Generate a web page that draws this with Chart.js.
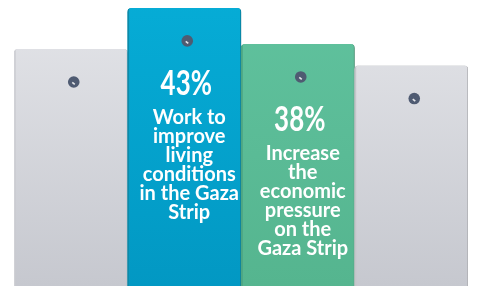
<!DOCTYPE html>
<html lang="en">
<head>
    <meta charset="UTF-8">
    <title>Gaza Strip policy tags</title>
    <script src="https://cdn.jsdelivr.net/npm/chart.js"></script>
    <style>
        body { margin: 0; background: #ffffff; }
        .wrap { position: relative; width: 479px; height: 286px; }
    </style>
</head>
<body>
    <div class="wrap">
        <canvas id="myChart"></canvas>
    </div>

<script>
    // data
    const categories = ['Other A', 'Improve living conditions', 'Increase economic pressure', 'Other B']
    const values = [37.3, 43, 38, 35]
    const pctLabels = ['', '43%', '38%', '']
    const descriptions = [
        [],
        ['Work to', 'improve', 'living', 'conditions', 'in the Gaza', 'Strip'],
        ['Increase', 'the', 'economic', 'pressure', 'on the', 'Gaza Strip'],
        []
    ]

    const topColors = ['#e4e5e9', '#06acd6', '#60c29e', '#e4e5e9']
    const bottomColors = ['#c6c8cf', '#0298c3', '#55b58f', '#c6c8cf']
    const edgeColors = ['#d3d4d9', '#0b8eae', '#4fa884', '#c9cace']

    function makeGradient(ctx, chart, i) {
        const area = chart.chartArea
        if (!area) return topColors[i]
        const g = ctx.createLinearGradient(0, area.top, 0, area.bottom)
        g.addColorStop(0, topColors[i])
        g.addColorStop(1, bottomColors[i])
        return g
    }

    const tagShadow = {
        id: 'tagShadow',
        beforeDatasetsDraw(chart) {
            const ctx = chart.ctx
            ctx.save()
            ctx.shadowColor = 'rgba(0, 0, 0, 0.22)'
            ctx.shadowBlur = 3
            ctx.shadowOffsetX = 1
            ctx.shadowOffsetY = 0
        },
        afterDatasetsDraw(chart) {
            chart.ctx.restore()
        }
    }

    const tagText = {
        id: 'tagText',
        afterDatasetsDraw(chart) {
            const ctx = chart.ctx
            const meta = chart.getDatasetMeta(0)
            meta.data.forEach(function (bar, i) {
                const top = bar.y
                // the hole of the tag
                const hx = bar.x + 3
                const hy = top + 33
                ctx.save()
                ctx.beginPath()
                ctx.arc(hx, hy, 5.8, 0, Math.PI * 2)
                ctx.fillStyle = '#4f5b72'
                ctx.fill()
                ctx.strokeStyle = 'rgba(255,255,255,0.85)'
                ctx.lineWidth = 1.6
                ctx.beginPath()
                ctx.moveTo(hx - 1.5, hy + 0.5)
                ctx.lineTo(hx + 1, hy + 2.5)
                ctx.stroke()
                ctx.restore()

                ctx.save()
                ctx.fillStyle = '#ffffff'
                ctx.textAlign = 'center'
                ctx.textBaseline = 'alphabetic'
                if (pctLabels[i]) {
                    // condensed look: squeeze the bold face sideways
                    ctx.save()
                    ctx.translate(bar.x + 2, top + 87)
                    ctx.scale(0.74, 1)
                    ctx.font = 'bold 35px Lato, "Noto Sans", sans-serif'
                    ctx.fillText(pctLabels[i], 0, 0)
                    ctx.restore()
                }
                ctx.font = 'bold 20px Lato, "Noto Sans", sans-serif'
                descriptions[i].forEach(function (line, k) {
                    ctx.fillText(line, bar.x + 5, top + 116 + k * 19)
                })
                ctx.restore()
            })
        }
    }

    const config = {
        type: 'bar',
        data: {
            labels: categories,
            datasets: [{
                data: values,
                backgroundColor: function (c) { return makeGradient(c.chart.ctx, c.chart, c.dataIndex) },
                borderColor: edgeColors,
                borderWidth: { left: 2, right: 1, top: 0, bottom: 0 },
                borderSkipped: 'start',
                borderRadius: { topLeft: 4, topRight: 4, bottomLeft: 0, bottomRight: 0 },
                barPercentage: 1,
                categoryPercentage: 1
            }]
        },
        options: {
            responsive: true,
            maintainAspectRatio: false,
            animation: false,
            layout: { padding: { left: 14, right: 11, top: 0, bottom: 0 } },
            plugins: {
                legend: { display: false },
                tooltip: { enabled: false }
            },
            scales: {
                x: { display: false },
                y: { display: false, min: 4.4, max: 44.1 }
            }
        },
        plugins: [tagShadow, tagText]
    }

    const myChart = new Chart(document.getElementById('myChart'), config)
</script>
</body>
</html>
